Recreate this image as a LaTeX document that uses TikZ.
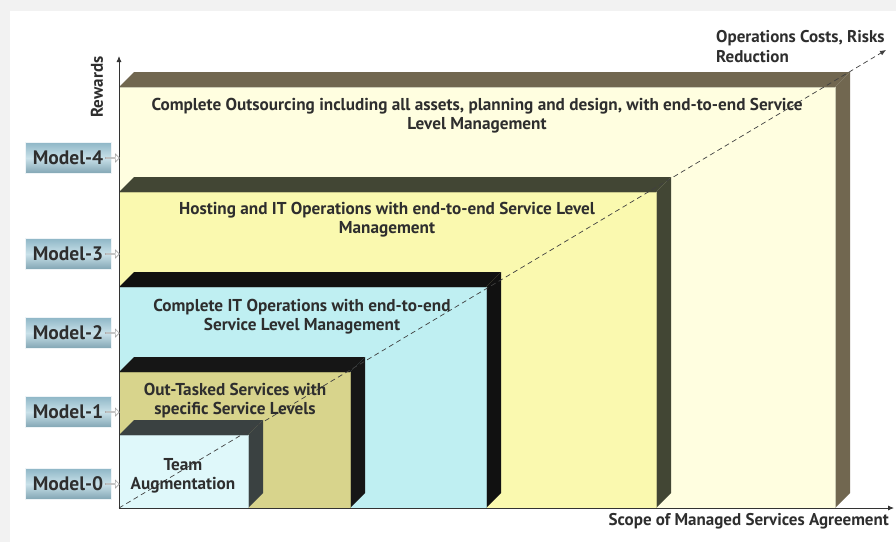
\documentclass[tikz,border=0pt]{standalone}
\usepackage{fontspec}
\setmainfont{PT Sans}
\usetikzlibrary{arrows.meta,shapes.arrows}
\definecolor{bgray}{HTML}{F2F2F2}
\definecolor{fFour}{HTML}{FFFEE0}
\definecolor{bFour}{HTML}{716750}
\definecolor{fThree}{HTML}{FAF9AF}
\definecolor{bThree}{HTML}{424634}
\definecolor{fTwo}{HTML}{BFEFF2}
\definecolor{bTwo}{HTML}{111111}
\definecolor{fOne}{HTML}{D8D48C}
\definecolor{bOne}{HTML}{161616}
\definecolor{fZero}{HTML}{DFF8FA}
\definecolor{bZero}{HTML}{3A4141}
\definecolor{txt}{HTML}{2E2E2E}
\definecolor{mTop}{HTML}{8FB7C7}
\definecolor{mMid}{HTML}{C9E1E9}
\tikzset{
  boxtext/.style={font=\bfseries\fontsize{17.2}{18.5}\selectfont, text=txt, align=center, anchor=north, inner sep=0pt},
  modelbox/.style={draw=white!85!mTop, line width=0.6pt, top color=mTop, bottom color=mTop!90!black, middle color=mMid,
     minimum width=86pt, minimum height=31pt, inner sep=0pt, font=\bfseries\fontsize{19.5}{20}\selectfont, text=txt},
  axislbl/.style={font=\bfseries\fontsize{17}{20}\selectfont, text=txt, inner sep=0pt},
  hollowarrow/.style={single arrow, draw=gray!70, fill=white, line width=0.6pt, minimum height=14pt, minimum width=8pt, single arrow head extend=1.5pt, inner sep=0pt}
}
\newcommand{\mybox}[4]{% right, top, front colour, band colour
  \fill[#4] (119,#2) -- (134,#2-15) -- (#1+15,#2-15) -- (#1,#2) -- cycle;
  \fill[#4] (#1,#2) -- (#1+15,#2-15) -- (#1+15,493) -- (#1,508) -- cycle;
  \fill[#3] (119,#2) rectangle (#1,508);
  \draw[#3!80!black, line width=0.4pt] (119,#2) rectangle (#1,508);
}
\begin{document}
\begin{tikzpicture}[x=1pt,y=-1pt]
\useasboundingbox (0,0) rectangle (896,542);
\fill[bgray] (0,0) rectangle (896,542);
\fill[white] (10,11) rectangle (896,542);

\mybox{835}{87}{fFour}{bFour}
\mybox{656}{192}{fThree}{bThree}
\mybox{486}{287}{fTwo}{bTwo}
\mybox{350}{372}{fOne}{bOne}
\mybox{248}{435}{fZero}{bZero}

% coordinates
\coordinate (O) at (119,508);
\coordinate (ytip) at (119,56);
\coordinate (xtip) at (894,508);
\coordinate (dtip) at (886,50);

% dashed diagonal
\draw[gray!50!black, dash pattern=on 5pt off 3.5pt, line width=0.7pt, -{Latex[length=6pt,width=5pt]}] (O) -- (dtip);

% axes
\draw[black!80, line width=0.8pt, -{Latex[length=6pt,width=5pt]}] (O) -- (ytip);
\draw[black!80, line width=0.8pt, -{Latex[length=6pt,width=5pt]}] (O) -- (xtip);

% axis labels
\node[axislbl, rotate=90] (rew) at (97,87) {Rewards};
\node[axislbl, anchor=north east] (scope) at (889,513) {Scope of Managed Services Agreement};
\node[axislbl, anchor=north west, align=left] (ops) at (716,30) {Operations Costs, Risks\\Reduction};

% box texts
\node[boxtext] (t4) at (477,98.5) {Complete Outsourcing including all assets, planning and design, with end-to-end Service\\Level Management};
\node[boxtext] (t3) at (387,202.5) {Hosting and IT Operations with end-to-end Service Level\\Management};
\node[boxtext] (t2) at (302,299.5) {Complete IT Operations with end-to-end\\Service Level Management};
\node[boxtext] (t1) at (235,383.5) {Out-Tasked Services with\\specific Service Levels};
\node[boxtext] (t0) at (183,458.5) {Team\\Augmentation};

% model labels
\foreach \n/\y in {4/158,3/254,2/333,1/412,0/484}{
  \node[modelbox] (m\n) at (68,\y) {Model-\n};
  \node[hollowarrow] (a\n) at (112,\y) {};
}
\end{tikzpicture}
\end{document}
